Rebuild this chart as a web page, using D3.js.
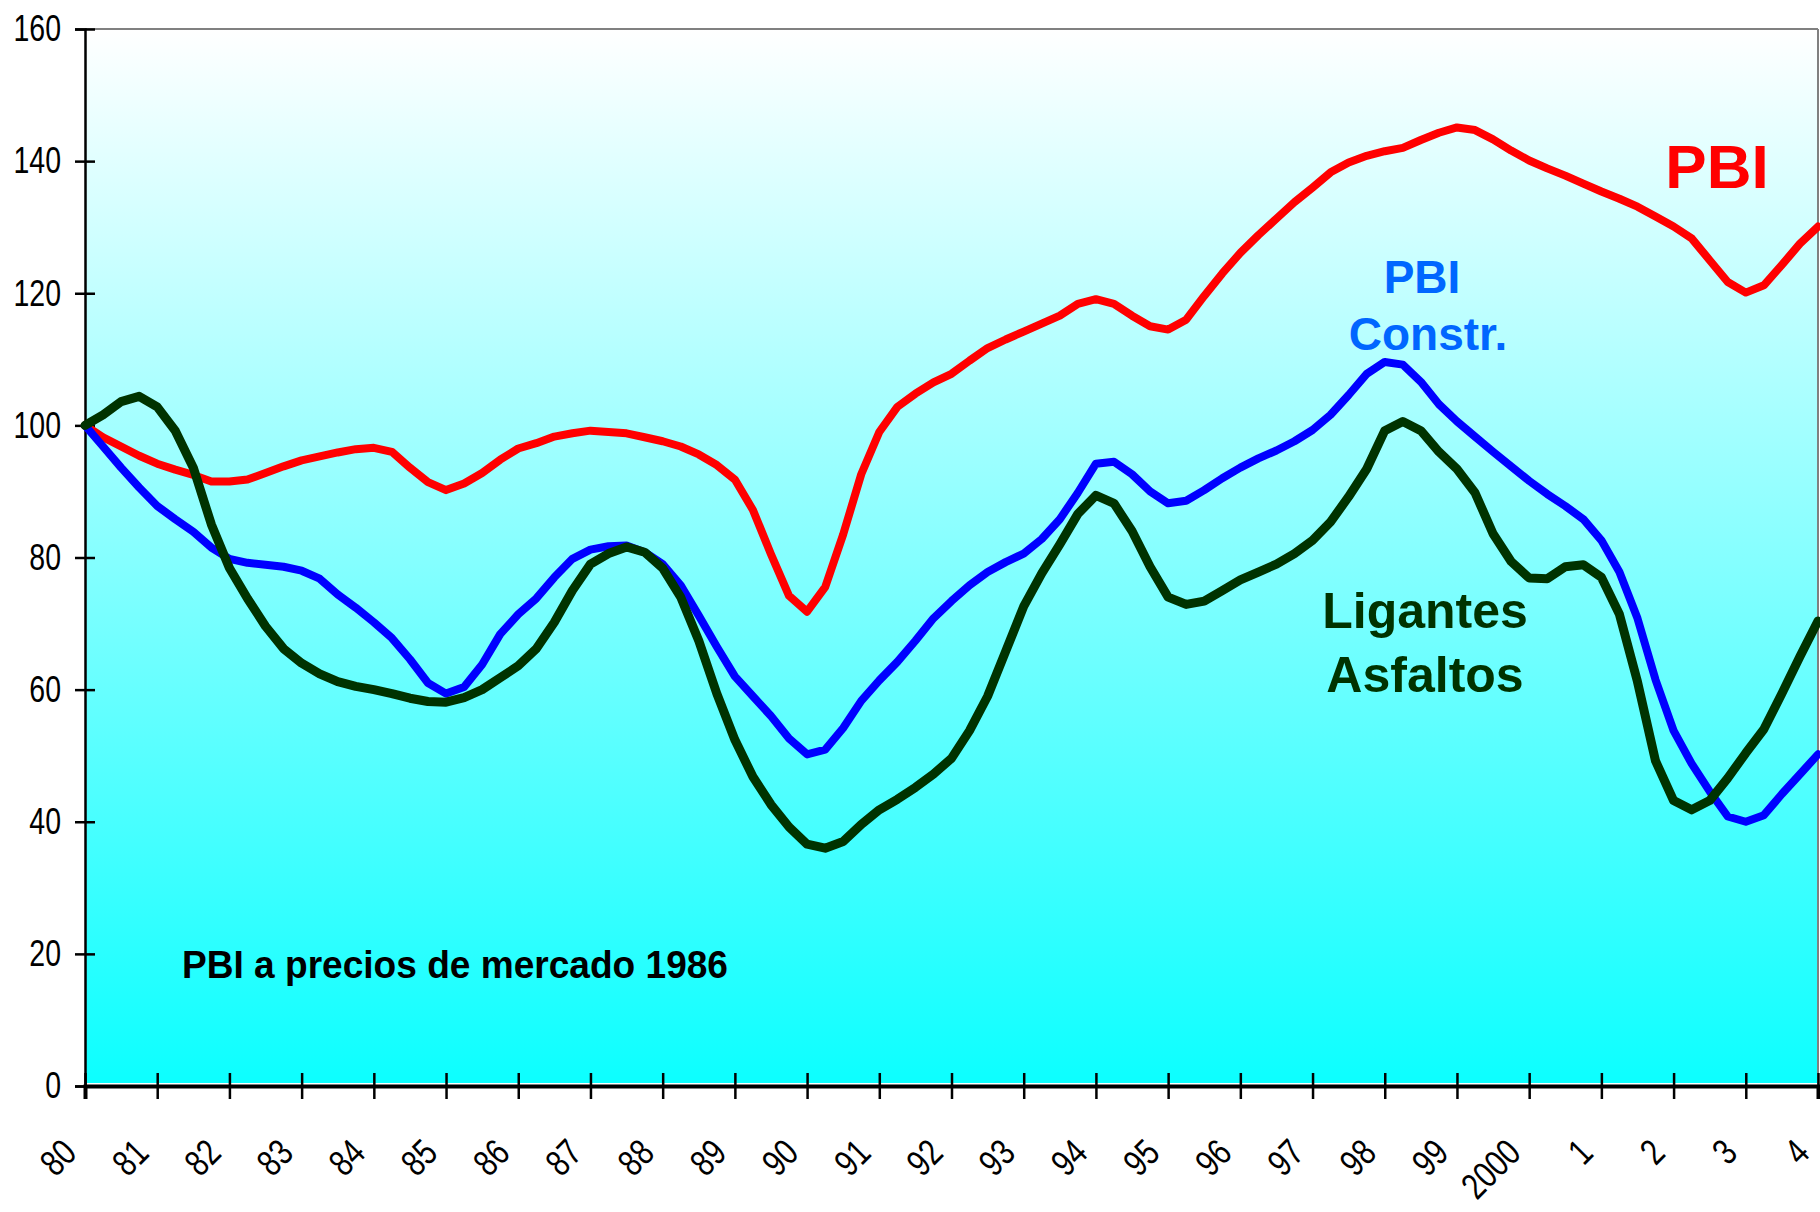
<!DOCTYPE html>
<html>
<head>
<meta charset="utf-8">
<script src="https://cdn.jsdelivr.net/npm/d3@7"></script>
<style>
  body { margin: 0; background: #fff; }
  svg { display: block; }
</style>
</head>
<body>
<svg id="chart"></svg>
<script>
// quarterly index values, 1980 = 100
const yearLabels = ['80','81','82','83','84','85','86','87','88','89','90','91','92','93','94','95','96','97','98','99','2000','1','2','3','4'];
const yTicks = [0, 20, 40, 60, 80, 100, 120, 140, 160];

const pbi = [
  100, 98.2, 96.8, 95.4, 94.2, 93.3, 92.5, 91.5,
  91.5, 91.8, 92.8, 93.8, 94.7, 95.3, 95.9, 96.4,
  96.6, 96.0, 93.6, 91.4, 90.2, 91.2, 92.8, 94.8,
  96.5, 97.3, 98.3, 98.8, 99.2, 99.0, 98.8, 98.2,
  97.6, 96.8, 95.6, 94.0, 91.8, 87.2, 80.5, 74.2,
  71.8, 75.5, 83.5, 92.6, 99.0, 102.8, 104.8, 106.5,
  107.8, 109.8, 111.7, 113.0, 114.2, 115.4, 116.6, 118.4,
  119.1, 118.4, 116.6, 115.0, 114.5, 116.0, 119.6, 123.0,
  126.1, 128.8, 131.3, 133.8, 136.0, 138.3, 139.8, 140.8,
  141.5, 142.0, 143.2, 144.3, 145.1, 144.7, 143.3, 141.6,
  140.1, 138.9, 137.8, 136.6, 135.4, 134.3, 133.1, 131.6,
  130.1, 128.3, 125.0, 121.7, 120.1, 121.2, 124.3, 127.5,
  130.1
];

const pbiConstr = [
  100, 96.8, 93.6, 90.6, 87.8, 85.8, 83.9, 81.5,
  79.8, 79.2, 78.9, 78.6, 78.0, 76.8, 74.4, 72.4,
  70.2, 67.8, 64.6, 61.0, 59.4, 60.4, 63.8, 68.4,
  71.4, 73.8, 77.0, 79.8, 81.2, 81.7, 81.8, 80.8,
  79.0, 75.8, 71.2, 66.5, 62.0, 59.0, 56.0, 52.6,
  50.2, 50.9, 54.2, 58.3, 61.4, 64.2, 67.4, 70.8,
  73.4, 75.8, 77.8, 79.3, 80.6, 82.8, 85.8, 89.8,
  94.2, 94.5, 92.6, 90.0, 88.2, 88.6, 90.2, 92.0,
  93.6, 95.0, 96.2, 97.6, 99.3, 101.6, 104.6, 107.8,
  109.6, 109.2, 106.6, 103.2, 100.6, 98.3, 96.0, 93.8,
  91.6, 89.6, 87.8, 85.8, 82.6, 77.8, 70.8, 61.5,
  53.8, 48.8, 44.6, 40.8, 40.0, 41.0, 44.2, 47.2,
  50.2
];

const ligantes = [
  100, 101.6, 103.6, 104.4, 102.8, 99.2, 93.6, 85.0,
  78.4, 73.8, 69.6, 66.2, 64.0, 62.4, 61.2, 60.5,
  60.0, 59.4, 58.7, 58.2, 58.1, 58.8, 60.0, 61.8,
  63.6, 66.2, 70.2, 75.0, 79.0, 80.6, 81.6, 80.8,
  78.4, 74.0, 67.4, 59.4, 52.4, 46.8, 42.6, 39.2,
  36.6, 36.0, 37.0, 39.6, 41.8, 43.4, 45.2, 47.2,
  49.6, 53.8, 59.0, 65.8, 72.6, 77.6, 82.0, 86.6,
  89.4, 88.2, 84.0, 78.6, 74.0, 72.9, 73.4, 75.0,
  76.6, 77.8, 79.0, 80.6, 82.6, 85.4, 89.2, 93.4,
  99.2, 100.6, 99.2, 96.0, 93.4, 89.8, 83.6, 79.4,
  76.9, 76.8, 78.6, 78.9, 77.0, 71.4, 61.2, 49.2,
  43.2, 41.8, 43.2, 46.6, 50.4, 54.0, 59.4, 65.0,
  70.4
];

const quarters = pbi.map((d, i) => 1980 + i / 4);

const width = 1820, height = 1212;
const plotLeft = 85, plotRight = 1818, plotTop = 29, plotBottom = 1086;

const svg = d3.select('#chart')
  .attr('width', width)
  .attr('height', height);

const x = d3.scaleLinear().domain([1980, 2004]).range([plotLeft, plotRight]);
const y = d3.scaleLinear().domain([0, 160]).range([plotBottom, plotTop]);

// background gradient
const grad = svg.append('defs').append('linearGradient')
  .attr('id', 'bg')
  .attr('x1', 0).attr('y1', 0).attr('x2', 0).attr('y2', 1);
grad.append('stop').attr('offset', '0%').attr('stop-color', '#ffffff');
grad.append('stop').attr('offset', '100%').attr('stop-color', '#0cffff');

svg.append('rect')
  .attr('x', plotLeft).attr('y', plotTop)
  .attr('width', plotRight - plotLeft).attr('height', plotBottom - plotTop - 3)
  .attr('fill', 'url(#bg)');

// frame top / right
svg.append('line')
  .attr('x1', plotLeft).attr('x2', plotRight).attr('y1', plotTop).attr('y2', plotTop)
  .attr('stroke', '#808080').attr('stroke-width', 2);
svg.append('line')
  .attr('x1', plotRight).attr('x2', plotRight).attr('y1', plotTop).attr('y2', plotBottom)
  .attr('stroke', '#808080').attr('stroke-width', 2);

const sans = '"Liberation Sans", Arial, Helvetica, sans-serif';

// squeeze tick labels horizontally, like the narrow font of the original
function condense(sel, k) {
  sel.each(function () {
    const w = this.getComputedTextLength();
    d3.select(this)
      .attr('textLength', w * k)
      .attr('lengthAdjust', 'spacingAndGlyphs');
  });
}

// y axis
const yAxis = svg.append('g')
  .attr('transform', `translate(${plotLeft},0)`)
  .call(d3.axisLeft(y).tickValues(yTicks).tickSize(10).tickPadding(14));
yAxis.select('.domain').attr('stroke', '#000').attr('stroke-width', 2.5);
yAxis.selectAll('.tick line').attr('x1', -10).attr('x2', 10)
  .attr('stroke', '#000').attr('stroke-width', 2.5);
yAxis.selectAll('.tick text')
  .attr('font-family', sans)
  .attr('font-size', 37)
  .attr('fill', '#000')
  .call(condense, 0.77);

// x axis
const xAxis = svg.append('g')
  .attr('transform', `translate(0,${plotBottom})`)
  .call(d3.axisBottom(x).tickValues(d3.range(1980, 2005)).tickSize(13)
    .tickFormat((d, i) => yearLabels[i]));
xAxis.select('.domain').attr('stroke', '#000').attr('stroke-width', 4);
xAxis.selectAll('.tick line').attr('y1', -13).attr('y2', 13)
  .attr('stroke', '#000').attr('stroke-width', 2.5);
xAxis.selectAll('.tick text')
  .attr('font-family', sans)
  .attr('font-size', 37)
  .attr('fill', '#000')
  .attr('text-anchor', 'end')
  .attr('dy', null)
  .attr('y', 0)
  .attr('transform', 'translate(-7,69) rotate(-45)')
  .call(condense, 0.79);

// lines
const line = d3.line()
  .x((d, i) => x(quarters[i]))
  .y(d => y(d));

const series = [
  { values: pbi, color: '#ff0000', w: 8 },
  { values: pbiConstr, color: '#0000ff', w: 8 },
  { values: ligantes, color: '#003300', w: 9 }
];

svg.append('g').selectAll('path')
  .data(series)
  .join('path')
  .attr('d', d => line(d.values))
  .attr('fill', 'none')
  .attr('stroke', d => d.color)
  .attr('stroke-width', d => d.w)
  .attr('stroke-linejoin', 'round')
  .attr('stroke-linecap', 'round');

// labels
svg.append('text')
  .attr('x', 1717).attr('y', 188)
  .attr('text-anchor', 'middle')
  .attr('font-family', sans).attr('font-weight', 'bold')
  .attr('font-size', 62).attr('fill', '#ff0000')
  .text('PBI');

svg.append('text')
  .attr('x', 1422).attr('y', 293)
  .attr('text-anchor', 'middle')
  .attr('font-family', sans).attr('font-weight', 'bold')
  .attr('font-size', 46).attr('fill', '#0066ff')
  .text('PBI');
svg.append('text')
  .attr('x', 1428).attr('y', 350)
  .attr('text-anchor', 'middle')
  .attr('font-family', sans).attr('font-weight', 'bold')
  .attr('font-size', 46).attr('fill', '#0066ff')
  .text('Constr.');

svg.append('text')
  .attr('x', 1425).attr('y', 628)
  .attr('text-anchor', 'middle')
  .attr('font-family', sans).attr('font-weight', 'bold')
  .attr('font-size', 50).attr('fill', '#003300')
  .text('Ligantes');
svg.append('text')
  .attr('x', 1425).attr('y', 692)
  .attr('text-anchor', 'middle')
  .attr('font-family', sans).attr('font-weight', 'bold')
  .attr('font-size', 50).attr('fill', '#003300')
  .text('Asfaltos');

svg.append('text')
  .attr('x', 182).attr('y', 978)
  .attr('font-family', sans)
  .attr('font-weight', 'bold')
  .attr('font-size', 38).attr('fill', '#000')
  .attr('textLength', 546)
  .attr('lengthAdjust', 'spacingAndGlyphs')
  .text('PBI a precios de mercado 1986');
</script>
</body>
</html>
